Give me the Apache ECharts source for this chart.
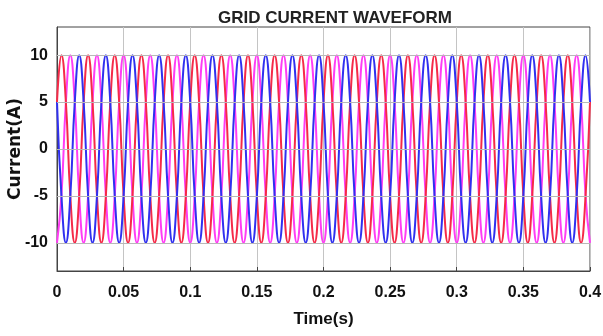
<!DOCTYPE html>
<html>
<head>
<meta charset="utf-8">
<script src="https://cdn.jsdelivr.net/npm/echarts@6/dist/echarts.min.js"></script>
<style>
    html, body { margin: 0; padding: 0; background: #fff; }
    #chart { width: 603px; height: 336px; }
</style>
</head>
<body>
<div id="chart"></div>
<script>
// sample step of the waveform (s), one point every 60 degrees at 50 Hz
const sampleStep = 1 / 300;

// y tick values (A)
const currentTicks = [-10, -5, 0, 5, 10];

// phase currents (A), 121 samples from 0 to 0.4 s
const phaseBlue = [
    5, -5, -10, -5, 5, 10, 5, -5, -10, -5, 5, 10, 5, -5, -10, -5, 5, 10, 5, -5, -10, -5, 5, 10,
    5, -5, -10, -5, 5, 10, 5, -5, -10, -5, 5, 10, 5, -5, -10, -5, 5, 10, 5, -5, -10, -5, 5, 10,
    5, -5, -10, -5, 5, 10, 5, -5, -10, -5, 5, 10, 5, -5, -10, -5, 5, 10, 5, -5, -10, -5, 5, 10,
    5, -5, -10, -5, 5, 10, 5, -5, -10, -5, 5, 10, 5, -5, -10, -5, 5, 10, 5, -5, -10, -5, 5, 10,
    5, -5, -10, -5, 5, 10, 5, -5, -10, -5, 5, 10, 5, -5, -10, -5, 5, 10, 5, -5, -10, -5, 5, 10,
    5
];
const phaseRed = [
    5, 10, 5, -5, -10, -5, 5, 10, 5, -5, -10, -5, 5, 10, 5, -5, -10, -5, 5, 10, 5, -5, -10, -5,
    5, 10, 5, -5, -10, -5, 5, 10, 5, -5, -10, -5, 5, 10, 5, -5, -10, -5, 5, 10, 5, -5, -10, -5,
    5, 10, 5, -5, -10, -5, 5, 10, 5, -5, -10, -5, 5, 10, 5, -5, -10, -5, 5, 10, 5, -5, -10, -5,
    5, 10, 5, -5, -10, -5, 5, 10, 5, -5, -10, -5, 5, 10, 5, -5, -10, -5, 5, 10, 5, -5, -10, -5,
    5, 10, 5, -5, -10, -5, 5, 10, 5, -5, -10, -5, 5, 10, 5, -5, -10, -5, 5, 10, 5, -5, -10, -5,
    5
];
const phaseMagenta = [
    -10, -5, 5, 10, 5, -5, -10, -5, 5, 10, 5, -5, -10, -5, 5, 10, 5, -5, -10, -5, 5, 10, 5, -5,
    -10, -5, 5, 10, 5, -5, -10, -5, 5, 10, 5, -5, -10, -5, 5, 10, 5, -5, -10, -5, 5, 10, 5, -5,
    -10, -5, 5, 10, 5, -5, -10, -5, 5, 10, 5, -5, -10, -5, 5, 10, 5, -5, -10, -5, 5, 10, 5, -5,
    -10, -5, 5, 10, 5, -5, -10, -5, 5, 10, 5, -5, -10, -5, 5, 10, 5, -5, -10, -5, 5, 10, 5, -5,
    -10, -5, 5, 10, 5, -5, -10, -5, 5, 10, 5, -5, -10, -5, 5, 10, 5, -5, -10, -5, 5, 10, 5, -5,
    -10
];

function toPoints(values) {
    let pts = [];
    for (let i = 0; i < values.length; i++) {
        pts.push([i * sampleStep, values[i]]);
    }
    return pts;
}

function wave(name, values, color) {
    return {
        name: name,
        type: "line",
        data: toPoints(values),
        smooth: 0.5,
        showSymbol: false,
        lineStyle: { color: color, width: 2 },
        animation: false,
        z: 3,
    };
}

let labelFont = {
    color: "#111",
    fontFamily: "Liberation Sans, Arial, sans-serif",
    fontWeight: "bold",
    fontSize: 16,
};

// horizontal grid lines at the y ticks
let gridLines = {
    name: "grid",
    type: "line",
    data: [],
    z: 1,
    markLine: {
        silent: true,
        symbol: "none",
        label: { show: false },
        lineStyle: { color: "#b8b8b8", width: 1, type: "solid" },
        data: currentTicks.map(function (v) {
            return { yAxis: v };
        }),
    },
};

let chart = echarts.init(document.getElementById("chart"));
chart.setOption({
    animation: false,
    title: {
        text: "GRID CURRENT WAVEFORM",
        left: 330,
        top: 5,
        textAlign: "center",
        textStyle: {
            color: "#222",
            fontFamily: "Liberation Sans, Arial, sans-serif",
            fontWeight: "bold",
            fontSize: 17,
        },
    },
    grid: {
        left: 57,
        right: 13,
        top: 27,
        bottom: 65,
        outerBoundsMode: "none",
        containLabel: false,
        show: true,
        borderColor: "#444",
        borderWidth: 1,
    },
    xAxis: {
        type: "value",
        min: 0,
        max: 0.4,
        interval: 0.05,
        name: "Time(s)",
        nameLocation: "middle",
        nameGap: 40,
        nameMoveOverlap: false,
        nameTextStyle: Object.assign({}, labelFont, { fontSize: 17 }),
        axisLine: { onZero: false, lineStyle: { color: "#444" } },
        axisTick: { inside: true, length: 4, lineStyle: { color: "#444" } },
        axisLabel: Object.assign({ margin: 14 }, labelFont),
        splitLine: { show: true, lineStyle: { color: "#c4c4c4", width: 1 } },
    },
    yAxis: {
        type: "value",
        min: -13,
        max: 13,
        name: "Current(A)",
        nameLocation: "middle",
        nameGap: 33,
        nameMoveOverlap: false,
        nameTextStyle: Object.assign({}, labelFont, {
            fontFamily: "DejaVu Sans, sans-serif",
            fontSize: 17,
        }),
        axisLine: { onZero: false, lineStyle: { color: "#444" } },
        axisTick: {
            inside: true,
            length: 4,
            customValues: currentTicks,
            lineStyle: { color: "#444" },
        },
        axisLabel: Object.assign({ margin: 9, customValues: currentTicks }, labelFont),
        splitLine: { show: false },
    },
    series: [
        gridLines,
        wave("Phase C", phaseMagenta, "#ff3cf5"),
        wave("Phase A", phaseRed, "#f52a48"),
        wave("Phase B", phaseBlue, "#3030f0"),
    ],
});
</script>
</body>
</html>
